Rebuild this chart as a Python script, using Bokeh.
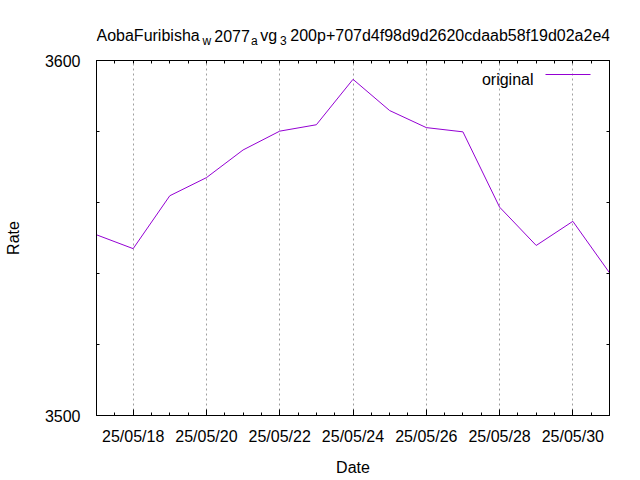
import numpy as np
import pandas as pd
from bokeh.plotting import figure
from bokeh.layouts import column
from bokeh.models import (Range1d, FixedTicker, DatetimeTickFormatter, LinearAxis,
                          DatetimeAxis, Label, Arrow)
from bokeh.core.properties import value
from bokeh.embed import file_html
from bokeh.resources import INLINE

# ---------------- data ----------------
dates = ["2025-05-17", "2025-05-18", "2025-05-19", "2025-05-20", "2025-05-21",
         "2025-05-22", "2025-05-23", "2025-05-24", "2025-05-25", "2025-05-26",
         "2025-05-27", "2025-05-28", "2025-05-29", "2025-05-30", "2025-05-31"]
rates = [3550.9, 3547.0, 3561.9, 3567.0, 3574.8, 3580.1, 3581.9, 3594.7,
         3585.9, 3581.1, 3579.9, 3558.7, 3547.9, 3554.7, 3540.2]
series_name = "original"

x_tick_dates = ["2025-05-18", "2025-05-20", "2025-05-22", "2025-05-24",
                "2025-05-26", "2025-05-28", "2025-05-30"]
y_major = [3500, 3600]
y_minor = [3520, 3540, 3560, 3580]
y_limits = [3500, 3600]

title_parts = ["AobaFuribisha", "w", "2077", "a", "vg", "3",
               "200p+707d4f98d9d2620cdaab58f19d02a2e4"]
title_is_sub = [False, True, False, True, False, True, False]
x_label = "Date"
y_label = "Rate"

# ---------------- styling ----------------
FONT = "Liberation Sans"
FS = "16px"
SUB_FS = "12px"
LINE_COLOR = "#9400d3"
W = 640
TITLE_H = 48
MAIN_H = 480 - TITLE_H
FRAME_L, FRAME_R = 96, 609   # page pixels of the plot frame (shared by both strips)

def ms(d):
    return pd.Timestamp(d).value / 1e6

# ---------------- title strip (gnuplot enhanced text, subscripts) ----------------
tf = figure(width=W, height=TITLE_H, output_backend="svg", toolbar_location=None,
            x_range=Range1d(FRAME_L, FRAME_R), y_range=Range1d(TITLE_H, 0),
            x_axis_location=None, y_axis_location=None,
            min_border_left=FRAME_L, min_border_right=W - FRAME_R,
            min_border_top=0, min_border_bottom=0)
tf.outline_line_color = None
tf.grid.visible = False
tf.background_fill_color = "white"
tf.border_fill_color = "white"
title_x = [96, 202, 213.8, 250.5, 259.7, 279.5, 289.8]   # pixel layout of pieces
main_base, sub_base = 35, 40
mx = [tx for tx, s in zip(title_x, title_is_sub) if not s]
mt = [t for t, s in zip(title_parts, title_is_sub) if not s]
sx = [tx for tx, s in zip(title_x, title_is_sub) if s]
st = [t for t, s in zip(title_parts, title_is_sub) if s]
tf.text(x=mx, y=[main_base] * len(mx), text=mt, text_font=value(FONT),
        text_font_size=value(FS), text_color="black", text_align="left",
        text_baseline="alphabetic")
tf.text(x=sx, y=[sub_base] * len(sx), text=st, text_font=value(FONT),
        text_font_size=value(SUB_FS), text_color="black", text_align="left",
        text_baseline="alphabetic")

# ---------------- main plot ----------------
x = pd.to_datetime(dates)
x0, x1 = ms(dates[0]), ms(dates[-1])
major_ms = [ms(d) for d in x_tick_dates]
half_day = 12 * 3600 * 1000
minor_ms = list(np.arange(x0, x1 + 1, half_day))

p = figure(width=W, height=MAIN_H, x_axis_type="datetime",
           output_backend="svg", toolbar_location=None,
           x_range=Range1d(x0, x1), y_range=Range1d(*y_limits),
           min_border_left=FRAME_L, min_border_right=W - FRAME_R,
           min_border_top=12, min_border_bottom=65)
p.background_fill_color = "white"
p.border_fill_color = "white"
p.outline_line_color = "black"
p.outline_line_width = 1

p.line(x, rates, line_color=LINE_COLOR, line_width=1)

fmt = "%y/%m/%d"
p.xaxis.ticker = FixedTicker(ticks=major_ms, minor_ticks=minor_ms)
p.xaxis.formatter = DatetimeTickFormatter(days=fmt, months=fmt, hours=fmt,
                                          years=fmt, minutes=fmt, hourmin=fmt)
p.yaxis.ticker = FixedTicker(ticks=y_major, minor_ticks=y_minor)

p.xgrid.ticker = FixedTicker(ticks=major_ms)
p.xgrid.grid_line_color = "#a0a0a0"
p.xgrid.grid_line_dash = "2 3"
p.xgrid.grid_line_width = 1
p.ygrid.visible = False

p.xaxis.axis_label = x_label
p.yaxis.axis_label = y_label

for ax in p.xaxis + p.yaxis:
    ax.axis_line_color = "black"
    ax.major_tick_in = 6
    ax.major_tick_out = 0
    ax.minor_tick_in = 3
    ax.minor_tick_out = 0
    ax.major_tick_line_color = "black"
    ax.minor_tick_line_color = "black"
    ax.major_label_text_font = FONT
    ax.major_label_text_font_size = FS
    ax.major_label_text_color = "black"
    ax.axis_label_text_font = FONT
    ax.axis_label_text_font_size = FS
    ax.axis_label_text_font_style = "normal"
    ax.axis_label_text_color = "black"

p.xaxis.major_label_standoff = 12
p.xaxis.axis_label_standoff = 11
p.yaxis.major_label_standoff = 16
p.yaxis.axis_label_standoff = 20

# mirrored axes (ticks only)
right_ax = LinearAxis(ticker=FixedTicker(ticks=[], minor_ticks=y_minor))
top_ax = DatetimeAxis(ticker=FixedTicker(ticks=[], minor_ticks=minor_ms))
for ax in (right_ax, top_ax):
    ax.axis_line_color = "black"
    ax.major_tick_in = 6
    ax.major_tick_out = 0
    ax.minor_tick_in = 3
    ax.minor_tick_out = 0
    ax.minor_tick_line_color = "black"
    ax.major_label_standoff = 0
p.add_layout(right_ax, "right")
p.add_layout(top_ax, "above")

# ---------------- key (text left, sample right, like gnuplot) ----------------
p.add_layout(Label(x=437, y=336, x_units="screen", y_units="screen",
                   text=series_name, text_font=FONT, text_font_size=FS,
                   text_color="black", text_align="right",
                   text_baseline="alphabetic"))
p.add_layout(Arrow(end=None, x_start=449, y_start=341, x_end=494, y_end=341,
                   start_units="screen", end_units="screen",
                   line_color=LINE_COLOR, line_width=1))

layout = column(tf, p, spacing=0)
open("out.html", "w").write(file_html(layout, INLINE))
